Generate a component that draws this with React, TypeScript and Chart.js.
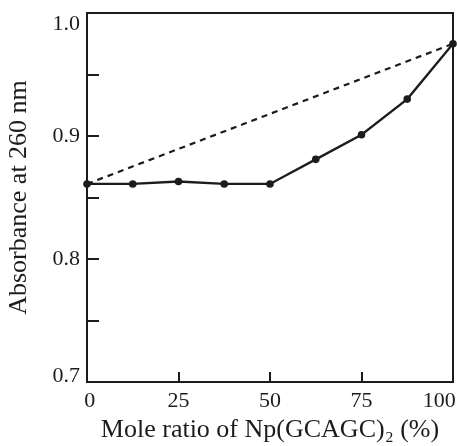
import React, { useEffect, useRef } from "react";
import { Chart, registerables } from "chart.js";

Chart.register(...registerables);

const moleRatio = [0, 12.5, 25, 37.5, 50, 62.5, 75, 87.5, 100];
const absorbance = [0.861, 0.861, 0.863, 0.861, 0.861, 0.881, 0.901, 0.93, 0.975];
const idealRatio = [0, 100];
const idealAbsorbance = [0.861, 0.975];
const xTickLabels: Record<number, string> = { 0: "\u00a00", 25: "25", 50: "50", 75: "75", 100: "100\u00a0\u00a0\u00a0\u00a0\u00a0" };
const yTickLabels: Record<string, string> = { "0.7": "0.7", "0.8": "0.8", "0.9": "0.9", "1.0": "1.0" };

const INK = "#1c1c1c";
const FAMILY = "'Liberation Serif', 'Times New Roman', serif";

const framePlugin = {
  id: "frame",
  afterDraw(chart: any) {
    const { ctx, chartArea } = chart;
    ctx.save();
    ctx.strokeStyle = INK;
    ctx.lineWidth = 2;
    ctx.strokeRect(chartArea.left, chartArea.top, chartArea.right - chartArea.left, chartArea.bottom - chartArea.top);
    ctx.restore();
  },
};

export default function App() {
  const ref = useRef<HTMLCanvasElement | null>(null);
  useEffect(() => {
    document.body.style.margin = "0";
    const canvas = ref.current;
    if (!canvas) return;
    const chart = new Chart(canvas, {
      type: "line",
      data: {
        datasets: [
          {
            data: moleRatio.map((x, i) => ({ x, y: absorbance[i] })),
            borderColor: INK,
            backgroundColor: INK,
            borderWidth: 2.3,
            pointRadius: 3.8,
            pointBorderWidth: 0,
            pointBackgroundColor: INK,
            tension: 0,
            clip: false as any,
          },
          {
            data: idealRatio.map((x, i) => ({ x, y: idealAbsorbance[i] })),
            borderColor: INK,
            borderWidth: 2.2,
            borderDash: [6, 5],
            pointRadius: 0,
            tension: 0,
            clip: false as any,
          },
        ],
      },
      options: {
        animation: false,
        responsive: false,
        events: [],
        layout: { padding: { top: 13, right: 1, left: 0, bottom: 0 } },
        plugins: { legend: { display: false }, tooltip: { enabled: false } },
        scales: {
          x: {
            type: "linear",
            min: 0,
            max: 100,
            border: { display: true, color: INK, width: 2 },
            grid: { display: true, drawOnChartArea: false, drawTicks: true, tickLength: -10, color: INK, lineWidth: 2 },
            ticks: {
              stepSize: 25,
              padding: 16,
              color: INK,
              font: { family: FAMILY, size: 22 },
              maxRotation: 0,
              autoSkip: false,
              callback: (v: any) => xTickLabels[Number(v)] ?? "",
            },
            title: {
              display: true,
              text: "Mole ratio of Np(GCAGC)\u2082 (%)",
              color: INK,
              font: { family: FAMILY, size: 26 },
              padding: { top: 0, bottom: 0 },
            },
            afterFit: (s: any) => {
              s.height = 64;
              s.paddingLeft = 0;
              s.paddingRight = 0;
            },
          },
          y: {
            type: "linear",
            min: 0.7,
            max: 1.0,
            border: { display: true, color: INK, width: 2 },
            grid: { display: true, drawOnChartArea: false, drawTicks: true, tickLength: -12, color: INK, lineWidth: 2 },
            ticks: {
              stepSize: 0.05,
              padding: 19,
              color: INK,
              autoSkip: false,
              font: (c: any) => {
                const v = c.tick ? c.tick.value : 0;
                let lh = 26;
                if (Math.abs(v - 1.0) < 1e-6) lh = 22;
                if (Math.abs(v - 0.7) < 1e-6) lh = 11;
                return { family: FAMILY, size: 22, lineHeight: lh + "px" };
              },
              callback: (v: any) => {
                const key = Number(v).toFixed(2);
                const k1 = Number(v).toFixed(1);
                if (Math.abs(Number(v) * 10 - Math.round(Number(v) * 10)) > 1e-6) return "";
                const lab = yTickLabels[k1] ?? "";
                if (key === "1.00") return ["", lab];
                if (key === "0.70") return [lab, ""];
                return lab;
              },
            },
            title: {
              display: true,
              text: "Absorbance at 260 nm",
              color: INK,
              font: { family: FAMILY, size: 26 },
              padding: { top: 4, bottom: 0 },
            },
            afterFit: (s: any) => {
              s.width = 87;
              s.paddingTop = 0;
              s.paddingBottom = 0;
            },
          },
        },
      },
      plugins: [framePlugin],
    } as any);
    return () => chart.destroy();
  }, []);
  return <canvas ref={ref} width={457} height={446} style={{ display: "block" }} />;
}
